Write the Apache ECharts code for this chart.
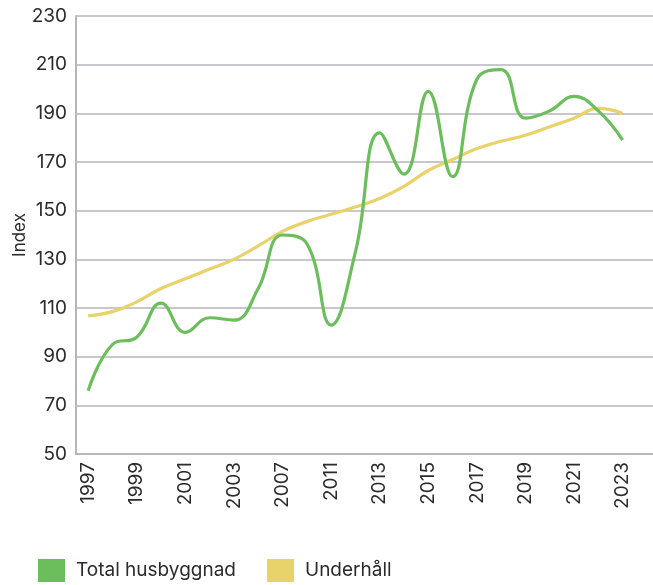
<!DOCTYPE html>
<html>
<head>
<meta charset="utf-8">
<title>Index</title>
<script src="https://cdn.jsdelivr.net/npm/echarts@6/dist/echarts.min.js"></script>
<style>
  html, body { margin: 0; padding: 0; background: #ffffff; }
  #chart { width: 653px; height: 585px; }
</style>
</head>
<body>
<div id="chart"></div>
<script>
// Years shown along the x axis (one entry per data point)
const years = ['1997', '1998', '1999', '2000', '2001', '2002', '2003', '2005', '2007', '2009',
  '2011', '2012', '2013', '2014', '2015', '2016', '2017', '2018', '2019', '2020', '2021', '2022', '2023'];

// Index values per year
const totalHusbyggnad = [76, 95, 98, 112, 100, 106, 105, 118, 140, 136.5,
  103, 133, 182, 165, 199, 164, 204, 208, 188, 191, 197, 191, 179];
const underhall = [106.8, 108.5, 112.5, 118, 122, 126, 130, 135.5, 141.5, 145.5,
  148.5, 151.5, 155, 160, 166.5, 171, 175.5, 178.5, 181, 184.5, 188, 192, 190];

// Every second year gets a label
const labelledIdx = years.map((_, i) => i).filter(i => i % 2 === 0);

const seriesNames = ['Total husbyggnad', 'Underhåll'];
const yAxisTitle = 'Index';
const colors = ['#6cbd5c', '#e8d26a'];

const FONT = 'Inter, "Open Sans", sans-serif';
const gridColor = '#b6b6bb';

const toPairs = arr => arr.map((v, i) => [i, v]);

const chart = echarts.init(document.getElementById('chart'), null, { renderer: 'canvas' });

chart.setOption({
  animation: false,
  color: colors,
  grid: { left: 76, right: 0, top: 16, bottom: 131, containLabel: false, outerBoundsMode: 'none' },
  // Vertical y-axis title, centred on the plot height
  graphic: [{
    type: 'text',
    x: 20,
    y: 235,
    rotation: Math.PI / 2,
    style: {
      text: yAxisTitle,
      fontFamily: FONT,
      fontSize: 17,
      fill: '#2b2b2b',
      align: 'center',
      verticalAlign: 'middle'
    }
  }],
  legend: {
    left: 38,
    top: 559,
    padding: 0,
    icon: 'rect',
    itemWidth: 27,
    itemHeight: 23,
    itemGap: 31,
    textStyle: { fontFamily: FONT, fontSize: 19, color: '#2b2b2b', padding: [0, 0, 0, 6] },
    data: seriesNames
  },
  xAxis: {
    type: 'value',
    min: -0.5,
    max: 23.25,
    splitLine: { show: false },
    axisTick: { show: false },
    axisLine: { show: true, onZero: false, lineStyle: { color: gridColor, width: 2 } },
    axisLabel: {
      customValues: labelledIdx,
      formatter: v => years[v],
      rotate: 90,
      margin: 8,
      fontFamily: FONT,
      fontSize: 19,
      color: '#2b2b2b'
    }
  },
  yAxis: {
    type: 'value',
    min: 50,
    max: 230,
    interval: 20,
    axisLine: { show: true, onZero: false, lineStyle: { color: gridColor, width: 2 } },
    axisTick: { show: false },
    splitLine: { show: true, lineStyle: { color: gridColor, width: 1.5 } },
    axisLabel: { margin: 9, fontFamily: FONT, fontSize: 19, color: '#2b2b2b' }
  },
  series: [
    {
      name: seriesNames[0],
      type: 'line',
      data: toPairs(totalHusbyggnad),
      smooth: 0.45,
      showSymbol: false,
      lineStyle: { width: 3.2, color: colors[0] },
      z: 3
    },
    {
      name: seriesNames[1],
      type: 'line',
      data: toPairs(underhall),
      smooth: 0.45,
      showSymbol: false,
      lineStyle: { width: 3.2, color: colors[1] },
      z: 2
    }
  ]
});
</script>
</body>
</html>
